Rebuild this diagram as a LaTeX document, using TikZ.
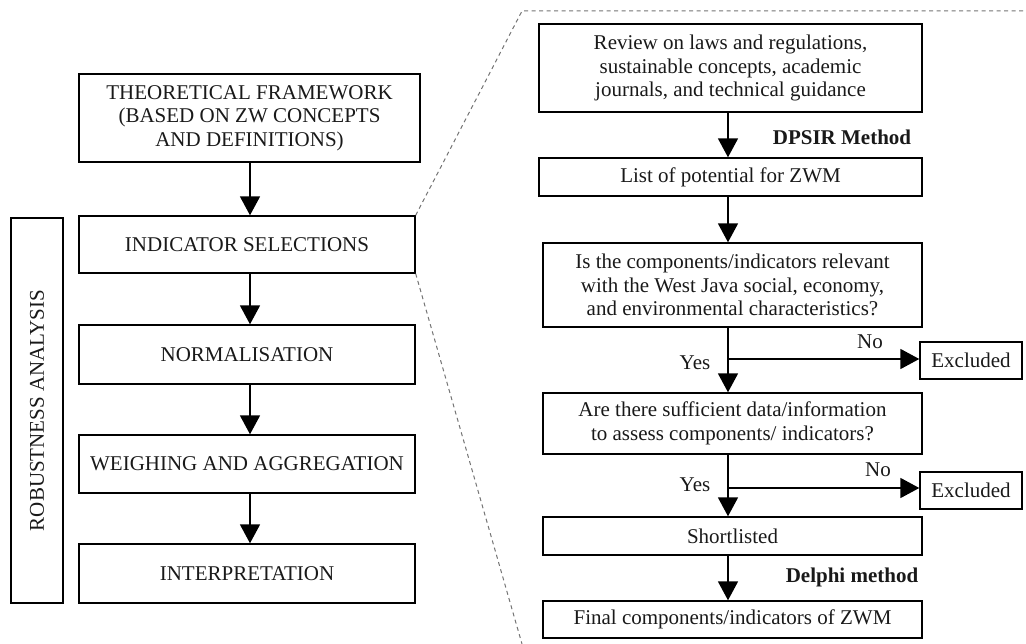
\documentclass[tikz,border=0pt]{standalone}
\usepackage{fontspec}
\setmainfont{Liberation Serif}
\usetikzlibrary{arrows.meta,calc}
\begin{document}
\begin{tikzpicture}[x=1pt,y=-1pt,
  every node/.style={font=\fontsize{21}{23.5}\selectfont, text=black!90},
  boxnode/.style={draw=black, line width=1.4pt, inner sep=0pt, align=center},
  arr/.style={draw=black, line width=1.8pt, -{Triangle[width=20pt,length=19pt]}},
  zoomline/.style={draw=black!55, line width=1pt, dash pattern=on 4pt off 3.5pt},
  lbl/.style={inner sep=0pt}
]
\useasboundingbox (0,0) rectangle (1026,644);
% left column
\node[boxnode, minimum width=341pt, minimum height=88pt] (tf) at (249.5,118) {THEORETICAL FRAMEWORK\\(BASED ON ZW CONCEPTS\\AND DEFINITIONS)};
\node[boxnode, minimum width=336pt, minimum height=57pt] (is) at (247,244.5) {INDICATOR SELECTIONS};
\node[boxnode, minimum width=336pt, minimum height=59pt] (norm) at (247,354.5) {NORMALISATION};
\node[boxnode, minimum width=336pt, minimum height=58pt] (wa) at (247,464) {WEIGHING AND AGGREGATION};
\node[boxnode, minimum width=336pt, minimum height=59pt] (int) at (247,573.5) {INTERPRETATION};
\node[boxnode, minimum width=52pt, minimum height=385pt] (rob) at (37,410.5) {};
\node[lbl, rotate=90] (robt) at (rob.center) {ROBUSTNESS ANALYSIS};
\coordinate (lx) at (250,0);
\draw[arr] (tf.south -| lx) -- (is.north -| lx);
\draw[arr] (is.south -| lx) -- (norm.north -| lx);
\draw[arr] (norm.south -| lx) -- (wa.north -| lx);
\draw[arr] (wa.south -| lx) -- (int.north -| lx);
% right column
\node[boxnode, minimum width=383pt, minimum height=88pt] (rev) at (730.5,68) {Review on laws and regulations,\\sustainable concepts, academic\\journals, and technical guidance};
\node[boxnode, minimum width=383pt, minimum height=38pt] (list) at (730.5,177) {List of potential for ZWM};
\node[boxnode, minimum width=379pt, minimum height=84pt] (q1) at (732.5,285) {Is the components/indicators relevant\\with the West Java social, economy,\\and environmental characteristics?};
\node[boxnode, minimum width=379pt, minimum height=61pt] (q2) at (732.5,423.5) {Are there sufficient data/information\\to assess components/ indicators?};
\node[boxnode, minimum width=379pt, minimum height=38pt] (sl) at (732.5,536) {Shortlisted};
\node[boxnode, minimum width=379pt, minimum height=37pt] (fin) at (732.5,619.5) {Final components/indicators of ZWM};
\node[boxnode, minimum width=102pt, minimum height=37pt] (ex1) at (971,360.5) {Excluded};
\node[boxnode, minimum width=102pt, minimum height=37pt] (ex2) at (971,490.5) {Excluded};
\coordinate (b1) at (728,359);
\coordinate (b2) at (728,488);
\draw[arr] (rev.south -| b1) -- (list.north -| b1);
\draw[arr] (list.south -| b1) -- (q1.north -| b1);
\draw[arr] (q1.south -| b1) -- (q2.north -| b1);
\draw[arr] (b1) -- (b1 -| ex1.west);
\draw[arr] (q2.south -| b2) -- (sl.north -| b2);
\draw[arr] (b2) -- (b2 -| ex2.west);
\draw[arr] (sl.south -| b2) -- (fin.north -| b2);
\node[lbl, font=\fontsize{21}{23.5}\selectfont\bfseries] (dpsir) at (842,137) {DPSIR Method};
\node[lbl, font=\fontsize{21}{23.5}\selectfont\bfseries] (delphi) at (852,577) {Delphi method};
\node[lbl] (yes1) at (695,363) {Yes};
\node[lbl] (no1) at (870,342) {No};
\node[lbl] (yes2) at (695,485) {Yes};
\node[lbl] (no2) at (878,470) {No};
% zoom lines
\coordinate (dtop) at (522,11);
\coordinate (dright) at (1026,11);
\coordinate (dbot) at (522,644);
\draw[zoomline] (is.north east) -- (dtop) -- (dright);
\draw[zoomline] (is.south east) -- (dbot);
\end{tikzpicture}
\end{document}
